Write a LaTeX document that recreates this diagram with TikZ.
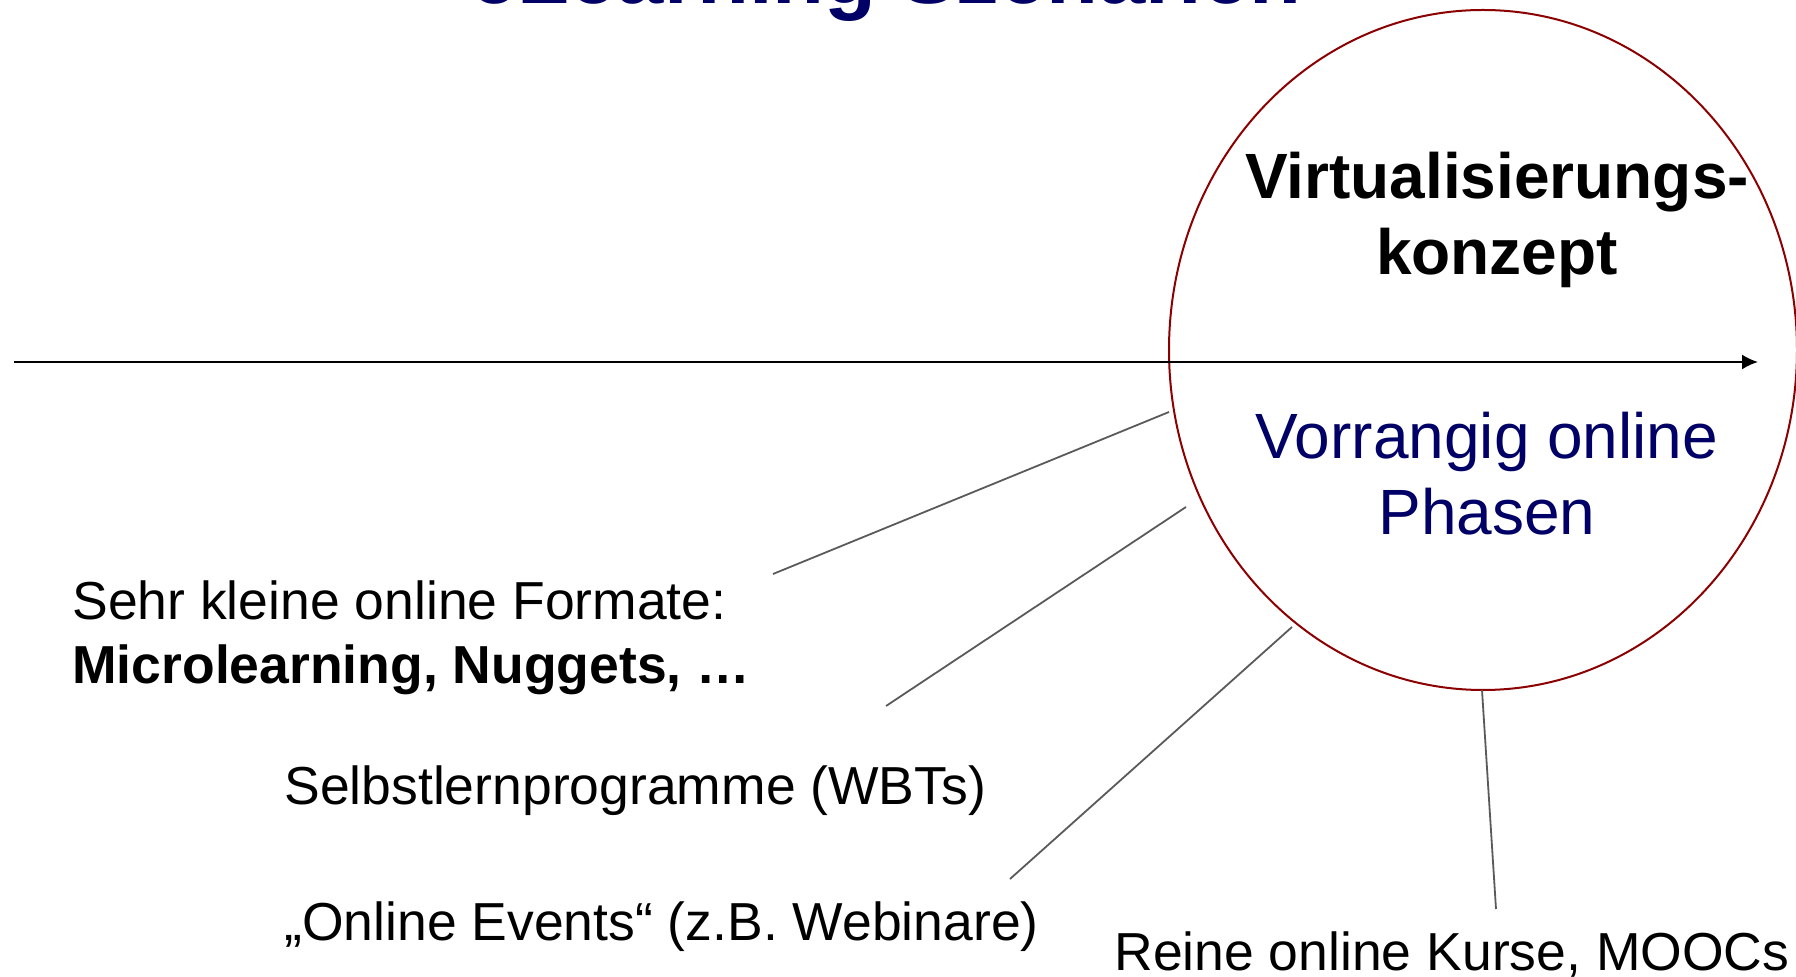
\documentclass[tikz,border=0pt]{standalone}
\usepackage{fontspec}
\setmainfont{Liberation Sans}
\usetikzlibrary{shapes.geometric,arrows.meta}
\definecolor{navy}{RGB}{0,0,102}
\definecolor{ring}{RGB}{139,0,0}
\definecolor{leader}{RGB}{90,90,90}

\begin{document}
\begin{tikzpicture}[
    x=0.5pt,
    y=-0.5pt,
    every node/.style={inner sep=0pt},
    format/.style={
        font=\fontsize{26.75}{32}\selectfont,
        anchor=base west,
        align=left
    },
    kreistext/.style={
        font=\fontsize{32}{38}\selectfont,
        anchor=base,
        align=center
    },
    link/.style={
        leader,
        line width=0.9pt
    }
]

\useasboundingbox (0,0) rectangle (1796,977);

% title, cut by the page edge
\node[
    font=\fontsize{42.5}{50}\selectfont\bfseries,
    text=navy,
    anchor=base
] (kopf) at (886,4)
{eLearning Szenarien};

% circle
\node[
    ellipse,
    draw=ring,
    line width=1pt,
    minimum width=314pt,
    minimum height=340pt
] (konzept) at (1483,350) {};

\node[
    kreistext,
    font=\fontsize{32}{38}\selectfont\bfseries
] (virt) at (1497,275)
{Virtualisierungs-\\konzept};

\node[
    kreistext,
    text=navy
] (phasen) at (1487,535)
{Vorrangig online\\Phasen};

% axis
\coordinate (achse0) at (14,362);
\coordinate (achse1) at (1758,362);

\draw[
    -{Latex[length=8pt,width=7.5pt]},
    line width=1pt
]
(achse0) -- (achse1);

% formats
\node[format] (micro) at (72,684)
{Sehr kleine online Formate:\\\textbf{Microlearning, Nuggets, \dots}};

\node[format] (wbt) at (284,805)
{Selbstlernprogramme (WBTs)};

\node[format] (events) at (284,941)
{„Online Events“ (z.B. Webinare)};

\node[format] (mooc) at (1114,971)
{Reine online Kurse, MOOCs};

% leader lines
\coordinate (micro-a) at (773,574);
\coordinate (micro-b) at (1169,412);
\coordinate (wbt-a) at (886,706);
\coordinate (wbt-b) at (1186,507);
\coordinate (events-a) at (1010,879);
\coordinate (events-b) at (1292,627);
\coordinate (mooc-a) at (1496,909);
\coordinate (mooc-b) at (1482,690);

\draw[link] (micro-a) -- (micro-b);
\draw[link] (wbt-a) -- (wbt-b);
\draw[link] (events-a) -- (events-b);
\draw[link] (mooc-a) -- (mooc-b);

\end{tikzpicture}
\end{document}
